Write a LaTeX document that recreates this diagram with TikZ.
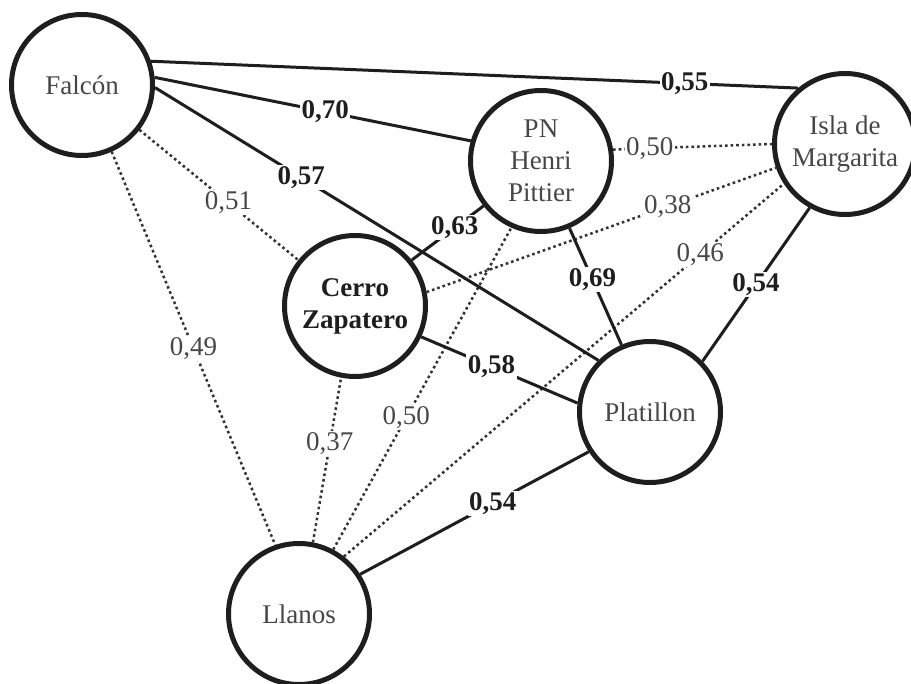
\documentclass[tikz,border=0pt]{standalone}
\usepackage{fontspec}
\setmainfont{Liberation Serif}
\definecolor{nodegray}{HTML}{474747}
\definecolor{linegray}{HTML}{333333}
\definecolor{dark}{HTML}{1E1E1E}
\begin{document}
\begin{tikzpicture}[x=1pt,y=-1pt,
  place/.style={circle,draw=dark,line width=5pt,minimum size=141pt,inner sep=0pt,align=center,
    font=\fontsize{27}{32}\selectfont,text=nodegray},
  strong/.style={line width=3pt,draw=dark},
  weak/.style={line width=2.5pt,dash pattern=on 2.6pt off 3pt,draw=linegray},
  slbl/.style={fill=white,inner sep=1.5pt,font=\fontsize{27}{32}\selectfont\bfseries,text=dark},
  wlbl/.style={fill=white,inner sep=1.5pt,font=\fontsize{27}{32}\selectfont,text=nodegray}]
\fill[white] (0,0) rectangle (911,684);
\useasboundingbox (0,0) rectangle (911,684);

\node[place] (fal) at (82,85) {Falcón};
\node[place] (pit) at (541,161) {PN\\Henri\\Pittier};
\node[place] (isla) at (845,144) {Isla de\\Margarita};
\node[place,text=dark] (cer) at (355,306) {\bfseries Cerro\\\bfseries Zapatero};
\node[place] (pla) at (650,412) {Platillon};
\node[place] (lla) at (299,614) {Llanos};

% weak edges
\draw[weak] (fal.-38) -- node[wlbl,pos=.56] {0,51} (cer.141);
\draw[weak] (fal.-66) -- node[wlbl,pos=.5] {0,49} (lla.109);
\draw[weak] (pit.9) -- node[wlbl,pos=.23] {0,50} (isla.180);
\draw[weak] (cer.11) -- node[wlbl,pos=.69] {0,38} (isla.199);
\draw[weak] (lla.52) -- node[wlbl,pos=.81] {0,46} (isla.213);
\draw[weak] (lla.79) -- node[wlbl,pos=.6] {0,37} (cer.259);
\draw[weak] (lla.62) -- node[wlbl,pos=.41] {0,50} (pit.246);

% strong edges
\draw[strong] (fal.19) -- node[slbl,pos=.825] {0,55} (isla.130);
\draw[strong] (fal.6) -- node[slbl,pos=.54] {0,70} (pit.164);
\draw[strong] (fal.-2) -- node[slbl,pos=.33] {0,57} (pla.135);
\draw[strong] (cer.39) -- node[slbl,pos=.6] {0,63} (pit.218);
\draw[strong] (pit.-67) -- node[slbl,pos=.44] {0,69} (pla.113);
\draw[strong] (isla.-119) -- node[slbl,pos=.5] {0,54} (pla.44);
\draw[strong] (cer.-25) -- node[slbl,pos=.45] {0,58} (pla.173);
\draw[strong] (lla.33) -- node[slbl,pos=.58] {0,54} (pla.213);
\end{tikzpicture}
\end{document}
